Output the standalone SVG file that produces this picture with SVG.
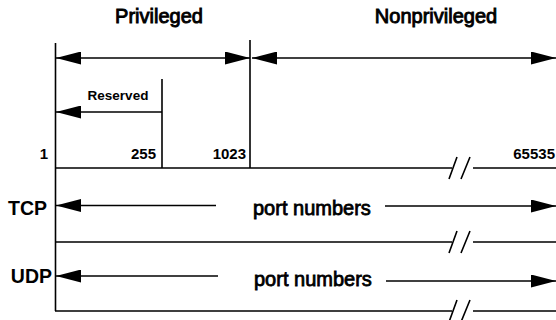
<svg xmlns="http://www.w3.org/2000/svg" width="556" height="320" viewBox="0 0 556 320">
<style>
  .ln { stroke: #000; stroke-width: 1.6; fill: none; }
  .ar { stroke: #000; stroke-width: 1.6; fill: none; marker-end: url(#ah); }
  .t { font-family: "Liberation Sans", Arial, sans-serif; fill: #000; }
  .hd { font-size: 20px; stroke: #000; stroke-width: 0.9; }
  .num { font-size: 15px; font-weight: bold; }
  .res { font-size: 13.5px; font-weight: bold; }
  .proto { font-size: 19.5px; font-weight: bold; }
  .pn { font-size: 20px; stroke: #000; stroke-width: 0.8; }
</style>
<defs>
  <marker id="ah" viewBox="0 0 25 13" refX="25" refY="6.5" markerWidth="25" markerHeight="13" markerUnits="userSpaceOnUse" orient="auto">
    <path d="M0,0 L25,6.5 L0,13 Z" fill="#000"/>
  </marker>
</defs>
<rect width="556" height="320" fill="#fff"/>

<g id="labels">
  <text class="t hd" x="159" y="23" text-anchor="middle">Privileged</text>
  <text class="t hd" x="436" y="23" text-anchor="middle">Nonprivileged</text>
  <text class="t res" x="118" y="100" text-anchor="middle">Reserved</text>
  <text class="t num" x="48" y="159" text-anchor="end">1</text>
  <text class="t num" x="156" y="159" text-anchor="end">255</text>
  <text class="t num" x="246" y="159" text-anchor="end">1023</text>
  <text class="t num" x="555" y="159" text-anchor="end">65535</text>
</g>

<g id="tcp">
  <text class="t proto" x="47" y="215" text-anchor="end">TCP</text>
  <text class="t pn" x="253" y="215">port numbers</text>
</g>

<g id="udp">
  <text class="t proto" x="52" y="283" text-anchor="end">UDP</text>
  <text class="t pn" x="254" y="286">port numbers</text>
</g>

<g id="connectors">
  <line class="ln" x1="55.5" y1="43" x2="55.5" y2="311"/>
  <line class="ln" x1="162" y1="79" x2="162" y2="168"/>
  <line class="ln" x1="250" y1="40" x2="250" y2="168"/>

  <path class="ln" d="M55,168 H452 M473,168 H556 M449,179 L457,157 M461,179 L470,157"/>
  <path class="ln" d="M55,242 H452 M473,242 H556 M449,253 L457,231 M461,253 L470,231"/>
  <path class="ln" d="M55,311 H452 M473,311 H556 M449,322 L457,300 M461,322 L470,300"/>

  <line class="ar" x1="152" y1="58" x2="56" y2="58"/>
  <line class="ar" x1="152" y1="58" x2="250" y2="58"/>
  <line class="ar" x1="400" y1="58" x2="252" y2="58"/>
  <line class="ar" x1="400" y1="58" x2="556" y2="58"/>
  <line class="ar" x1="162" y1="112" x2="56" y2="112"/>

  <line class="ar" x1="216" y1="205.5" x2="56" y2="205.5"/>
  <line class="ar" x1="385" y1="206" x2="556" y2="206"/>
  <line class="ar" x1="218" y1="276" x2="56" y2="276"/>
  <line class="ar" x1="386" y1="281" x2="556" y2="281"/>
</g>
</svg>
